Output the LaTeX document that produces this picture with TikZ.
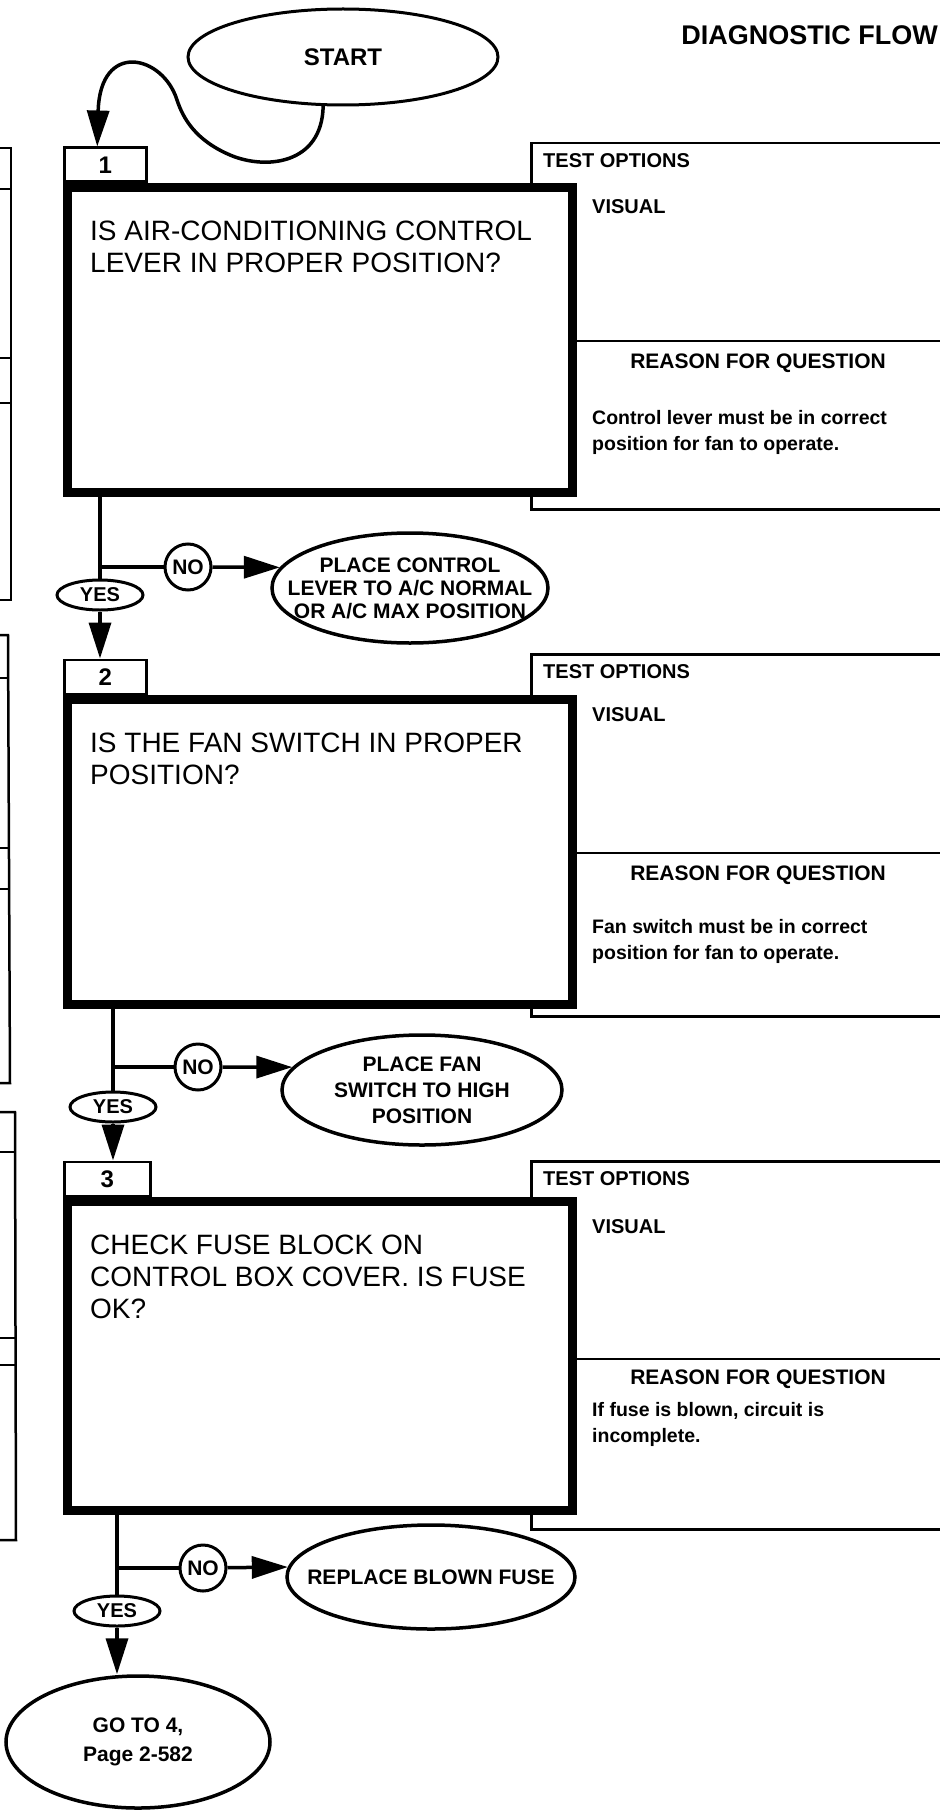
\documentclass[tikz,border=0pt]{standalone}
\usepackage{fontspec}
\setmainfont{Liberation Sans}
\usepackage{tikz}
\usetikzlibrary{arrows.meta, positioning, shapes.geometric}

\begin{document}
\begin{tikzpicture}[x=1pt, y=-1pt,
  qbox/.style={draw, line width=9pt, fill=white, anchor=north west, minimum width=505pt, minimum height=305pt},
  qtext/.style={anchor=north west, inner sep=0pt, align=left, font=\fontsize{28}{32}\selectfont},
  tabbox/.style={draw, line width=2.5pt, minimum width=82pt, minimum height=34pt, inner sep=0pt, font=\bfseries\fontsize{24}{28}\selectfont},
  optbox/.style={draw, line width=2.5pt, anchor=north west, minimum width=430pt},
  opthead/.style={anchor=west, inner sep=0pt, font=\bfseries\fontsize{20}{24}\selectfont},
  reasonhead/.style={inner sep=0pt, font=\bfseries\fontsize{21}{24}\selectfont},
  reasontext/.style={anchor=north west, inner sep=0pt, align=left, font=\bfseries\fontsize{19.5}{26}\selectfont},
  yesnode/.style={ellipse, draw, line width=3pt, fill=white, minimum width=86pt, minimum height=30pt, inner sep=0pt, font=\bfseries\fontsize{20}{24}\selectfont},
  nonode/.style={circle, draw, line width=3pt, minimum size=46pt, inner sep=0pt, font=\bfseries\fontsize{21}{24}\selectfont},
  action/.style={ellipse, draw, line width=3.5pt, inner xsep=-60pt, inner ysep=-25pt, align=center, font=\bfseries\fontsize{21}{23}\selectfont},
  wire/.style={line width=3.5pt},
  flow/.style={line width=3.5pt, -{Triangle[length=36pt, width=22pt]}},
  thinline/.style={line width=2.5pt}
]
\useasboundingbox (0,0) rectangle (939,1811);

% left edge (previous page columns)
\draw[thinline] (-5,148) -- (11,148) -- (11,600) -- (-5,600);
\draw[thinline] (-5,189) -- (11,189) (-5,358) -- (11,358) (-5,403) -- (11,403);
\draw[thinline] (-5,635) -- (8,635) -- (10,1083) -- (-5,1083);
\draw[thinline] (-5,678) -- (8,678) (-5,848) -- (9,848) (-5,889) -- (9,889);
\draw[thinline] (-5,1112) -- (15,1112) -- (16,1540) -- (-5,1540);
\draw[thinline] (-5,1152) -- (15,1152) (-5,1338) -- (15,1338) (-5,1365) -- (16,1365);

\node[anchor=east, inner sep=0pt, font=\bfseries\fontsize{27}{32}\selectfont] (title) at (938,35) {DIAGNOSTIC FLOW};
\node[ellipse, draw, line width=3pt, minimum width=310pt, minimum height=96pt, font=\bfseries\fontsize{24}{28}\selectfont] (start) at (343,57) {START};

% step 1
\node[optbox, minimum height=366pt] (o1) at (530,142) {};
\node[qbox] (q1) at (63,183) {};
\node[tabbox, above right=0pt of q1.north west] (t1) {1};
\node[qtext, below right=38pt and 27pt of q1.north west] (q1txt) {IS AIR-CONDITIONING CONTROL\\LEVER IN PROPER POSITION?};
\coordinate (m1) at ([yshift=-158pt]q1.north east);
\draw[thinline] (m1) -- (m1 -| o1.east);
\node[opthead] (o1head) at ([shift={(13,19)}]o1.north west) {TEST OPTIONS};
\node[opthead] (o1vis) at ([shift={(15,24)}]q1.north east) {VISUAL};
\node[reasonhead] (r1head) at ([shift={(181,22)}]m1) {REASON FOR QUESTION};
\node[reasontext] (r1txt) at ([shift={(15,69)}]m1) {Control lever must be in correct\\position for fan to operate.};
\draw[flow] (start.-112) .. controls (322,165) and (265,170) .. (230,155) .. controls (195,140) and (183,118) .. (177,100) .. controls (163,55) and (100,40) .. ([xshift=-8pt]t1.north);

\node[yesnode] (y1) at (100,595) {YES};
\node[nonode] (n1) at (188,567) {NO};
\node[action, minimum width=276pt, minimum height=110pt] (a1) at (410,588) {PLACE CONTROL\\LEVER TO A/C NORMAL\\OR A/C MAX POSITION};
\coordinate (j1) at (y1 |- n1);
\draw[wire] (y1 |- q1.south) -- (y1);
\draw[wire] (j1) -- (n1);
\draw[flow] (n1) -- (a1.171);

% step 2
\node[optbox, minimum height=362pt] (o2) at (530,653) {};
\node[qbox] (q2) at (63,695) {};
\node[tabbox, above right=0pt of q2.north west] (t2) {2};
\node[qtext, below right=38pt and 27pt of q2.north west] (q2txt) {IS THE FAN SWITCH IN PROPER\\POSITION?};
\coordinate (m2) at ([yshift=-158pt]q2.north east);
\draw[thinline] (m2) -- (m2 -| o2.east);
\node[opthead] (o2head) at ([shift={(13,19)}]o2.north west) {TEST OPTIONS};
\node[opthead] (o2vis) at ([shift={(15,20)}]q2.north east) {VISUAL};
\node[reasonhead] (r2head) at ([shift={(181,22)}]m2) {REASON FOR QUESTION};
\node[reasontext] (r2txt) at ([shift={(15,66)}]m2) {Fan switch must be in correct\\position for fan to operate.};
\draw[flow] (y1) -- (y1 |- t2.north);

\node[yesnode] (y2) at (113,1107) {YES};
\node[nonode] (n2) at (198,1067) {NO};
\node[action, minimum width=280pt, minimum height=110pt, font=\bfseries\fontsize{21}{26}\selectfont] (a2) at (422,1090) {PLACE FAN\\SWITCH TO HIGH\\POSITION};
\coordinate (j2) at (y2 |- n2);
\draw[wire] (y2 |- q2.south) -- (y2);
\draw[wire] (j2) -- (n2);
\draw[flow] (n2) -- (a2.170);

% step 3
\node[optbox, minimum height=368pt] (o3) at (530,1160) {};
\node[qbox, minimum height=309pt] (q3) at (63,1197) {};
\node[tabbox, minimum width=86pt, above right=0pt of q3.north west] (t3) {3};
\node[qtext, below right=38pt and 27pt of q3.north west] (q3txt) {CHECK FUSE BLOCK ON\\CONTROL BOX COVER. IS FUSE\\OK?};
\coordinate (m3) at ([yshift=-162pt]q3.north east);
\draw[thinline] (m3) -- (m3 -| o3.east);
\node[opthead] (o3head) at ([shift={(13,19)}]o3.north west) {TEST OPTIONS};
\node[opthead] (o3vis) at ([shift={(15,30)}]q3.north east) {VISUAL};
\node[reasonhead] (r3head) at ([shift={(181,20)}]m3) {REASON FOR QUESTION};
\node[reasontext] (r3txt) at ([shift={(15,43)}]m3) {If fuse is blown, circuit is\\incomplete.};
\draw[flow] (y2) -- (y2 |- t3.north);

\node[yesnode] (y3) at (117,1611) {YES};
\node[nonode] (n3) at (203,1568) {NO};
\node[action, minimum width=288pt, minimum height=104pt] (a3) at (431,1577) {REPLACE BLOWN FUSE};
\node[action, minimum width=264pt, minimum height=132pt, font=\bfseries\fontsize{21}{29}\selectfont] (goto) at (138,1742) {GO TO 4,\\Page 2-582};
\coordinate (j3) at (y3 |- n3);
\draw[wire] (y3 |- q3.south) -- (y3);
\draw[wire] (j3) -- (n3);
\draw[flow] (n3) -- (a3.176);
\draw[flow] (y3) -- (y3 |- goto.north);
\end{tikzpicture}
\end{document}
